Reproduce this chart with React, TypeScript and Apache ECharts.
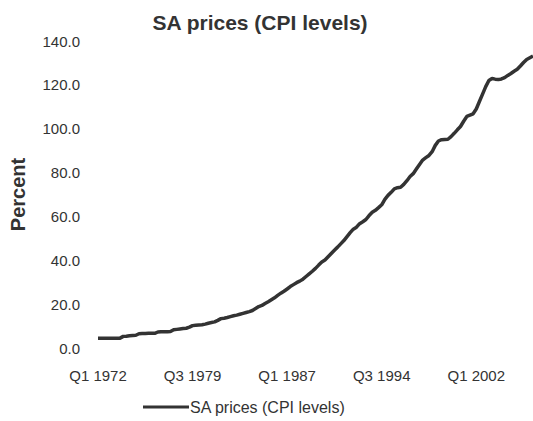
import React, { useEffect, useRef } from "react";
import * as echarts from "echarts";

const years: number[] = [];
for (let y = 1972; y <= 2006; y++) years.push(y);
const quarters = ["Q1", "Q2", "Q3", "Q4"];
const categories: string[] = [];
years.forEach((y) => quarters.forEach((q) => categories.push(`${q} ${y}`)));

const cpi: number[] = [
  // 1972
  4.4, 4.4, 4.4, 4.4,
  // 1973
  4.4, 4.4, 4.4, 4.5,
  // 1974
  5.3, 5.4, 5.6, 5.7,
  // 1975
  5.8, 6.5, 6.6, 6.6,
  // 1976
  6.7, 6.7, 6.7, 7.3,
  // 1977
  7.4, 7.4, 7.4, 7.5,
  // 1978
  8.3, 8.5, 8.7, 8.9,
  // 1979
  9.0, 9.5, 10.2, 10.4,
  // 1980
  10.5, 10.6, 10.9, 11.3,
  // 1981
  11.6, 11.9, 12.6, 13.4,
  // 1982
  13.6, 13.9, 14.3, 14.7,
  // 1983
  15.0, 15.4, 15.8, 16.2,
  // 1984
  16.6, 17.1, 18.0, 18.9,
  // 1985
  19.4, 20.3, 21.1, 22.0,
  // 1986
  22.9, 24.0, 25.0, 25.9,
  // 1987
  26.9, 28.0, 28.9, 29.8,
  // 1988
  30.5, 31.4, 32.6, 33.8,
  // 1989
  35.0, 36.3, 37.8, 39.2,
  // 1990
  40.1, 41.6, 43.1, 44.6,
  // 1991
  46.0, 47.5, 49.0, 50.8,
  // 1992
  52.6, 54.2, 55.1, 56.7,
  // 1993
  57.6, 58.6, 60.4, 61.9,
  // 1994
  62.8, 64.0, 65.3, 67.8,
  // 1995
  69.6, 71.0, 72.6, 73.1,
  // 1996
  73.3, 74.6, 76.3, 78.2,
  // 1997
  79.5, 81.6, 83.7, 85.7,
  // 1998
  86.8, 87.8, 89.5, 92.4,
  // 1999
  94.4, 95.0, 95.1, 95.2,
  // 2000
  96.4, 97.9, 99.5, 101.0,
  // 2001
  103.4, 105.6, 106.2, 106.8,
  // 2002
  109.0, 112.4, 115.8, 119.2,
  // 2003
  122.0, 122.9, 122.6, 122.4,
  // 2004
  122.7, 123.3, 124.3, 125.2,
  // 2005
  126.2, 127.1, 128.6, 130.2,
  // 2006
  131.6, 132.4, 133.2,
];

const cats = categories.slice(0, cpi.length);
const seriesName = "SA prices (CPI levels)";
const titleText = "SA prices (CPI levels)";
const yAxisName = "Percent";

export default function App() {
  const ref = useRef<HTMLDivElement>(null);
  useEffect(() => {
    if (!ref.current) return;
    const chart = echarts.init(ref.current, undefined, { renderer: "svg" });
    const font = "Arial, 'Liberation Sans', sans-serif";
    chart.setOption({
      animation: false,
      backgroundColor: "#ffffff",
      title: {
        text: titleText,
        left: 255,
        top: 7,
        textAlign: "center",
        textStyle: { fontFamily: font, fontSize: 21, fontWeight: "bold", color: "#333333" },
      },
      legend: {
        data: [seriesName],
        left: 138,
        top: 394,
        icon: "rect",
        itemWidth: 46,
        itemHeight: 3,
        itemGap: 4,
        textStyle: { fontFamily: font, fontSize: 16, color: "#333333", padding: [0, 0, 0, -4] },
      },
      grid: { left: 92, top: 41, bottom: 73, width: 441.6, containLabel: false },
      xAxis: {
        type: "category",
        data: cats,
        boundaryGap: false,
        axisLine: { show: false },
        axisTick: { show: false },
        splitLine: { show: false },
        axisLabel: {
          interval: (i: number) => i % 30 === 0,
          hideOverlap: false,
          margin: 20,
          fontFamily: font,
          fontSize: 15,
          color: "#333333",
        },
      },
      yAxis: {
        type: "value",
        min: 0,
        max: 140,
        interval: 20,
        name: yAxisName,
        nameLocation: "middle",
        nameRotate: 90,
        nameGap: 70,
        nameTextStyle: { fontFamily: font, fontSize: 20, fontWeight: "bold", color: "#333333" },
        axisLine: { show: false },
        axisTick: { show: false },
        splitLine: { show: false },
        axisLabel: {
          margin: 18,
          fontFamily: font,
          fontSize: 15,
          color: "#333333",
          formatter: (v: number) => v.toFixed(1),
        },
      },
      series: [
        {
          name: seriesName,
          type: "line",
          data: cpi,
          symbol: "none",
          lineStyle: { color: "#333333", width: 3.5 },
          itemStyle: { color: "#333333" },
        },
      ],
    });
    return () => chart.dispose();
  }, []);
  return (
    <div
      ref={ref}
      style={{ position: "absolute", left: 0, top: 0, width: 533, height: 421 }}
    />
  );
}
